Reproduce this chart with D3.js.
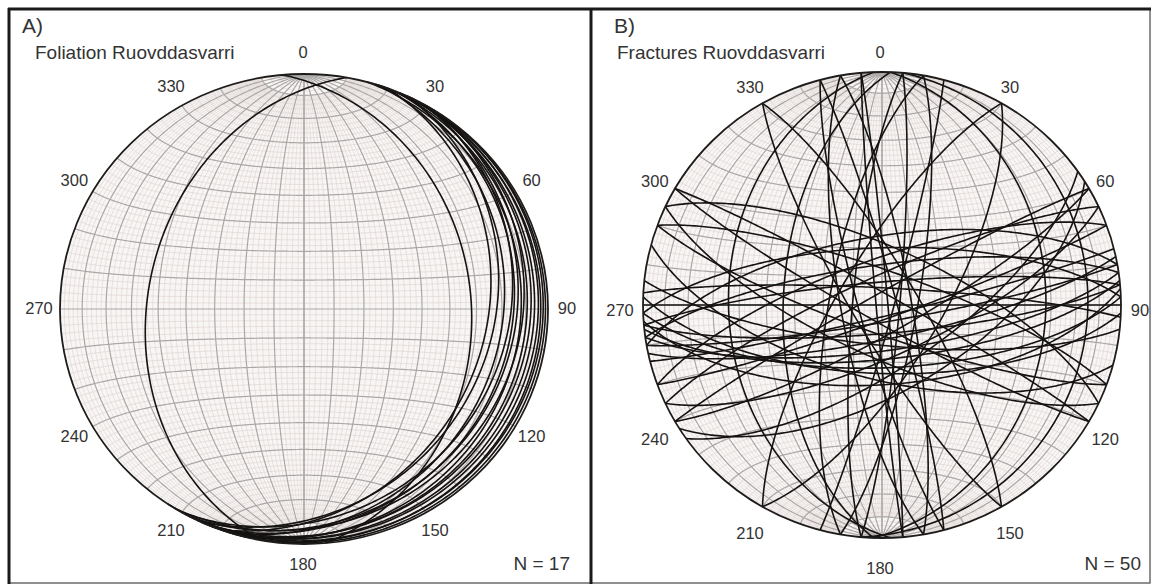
<!DOCTYPE html>
<html>
<head>
<meta charset="utf-8">
<script src="https://cdn.jsdelivr.net/npm/d3@7"></script>
<style>
  html, body { margin: 0; padding: 0; background: #fff; }
  svg { display: block; }
  text { font-family: "Liberation Sans", Arial, sans-serif; fill: #333; }
</style>
</head>
<body>
<svg id="chart" width="1155" height="585"></svg>
<script>
// Azimuth tick labels around each net
const azimuthTicks = [0, 30, 60, 90, 120, 150, 180, 210, 240, 270, 300, 330];

// Foliation planes (dip direction / dip, degrees)
const foliationDipDir = [280, 85, 110, 115, 108, 120, 112, 118, 105, 122, 110, 116, 113, 119, 107, 124, 115];
const foliationDip    = [36, 32, 26.4, 24.1, 20.1, 18.5, 16.2, 15.3, 12.4, 12.9, 10, 8.6, 6.7, 5.1, 3.5, 2.7, 1.3];

// Fracture planes (dip direction / dip, degrees)
const fractureDipDir = [
  180, 175, 172, 178, 170, 176, 168, 174, 355, 352, 358, 3, 186, 182, 166, 350,
  150, 155, 160, 145, 335, 340, 148, 330,
  200, 205, 210, 20, 25, 195, 30,
  75, 80, 255, 260, 272, 85, 95, 100, 275, 280, 265, 95, 105,
  92, 268, 120, 300, 240, 60
];
const fractureDip = [
  90, 80, 74, 68, 84, 62, 78, 71, 82, 76, 70, 84, 76, 66, 86, 66,
  80, 72, 85, 68, 80, 74, 60, 86,
  80, 72, 84, 78, 70, 64, 86,
  85, 80, 82, 76, 56, 88, 84, 78, 80, 72, 88, 15, 86,
  32, 36, 70, 75, 80, 78
];

const panels = [
  { letter: "A)", title: "Foliation Ruovddasvarri", n: "N = 17",
    dipDir: foliationDipDir, dip: foliationDip,
    cx: 304, cy: 309, rx: 244, ry: 235,
    lcx: 303, lcy: 308, lrx: 264, lry: 256,
    letterX: 22, titleX: 35, nX: 570 },
  { letter: "B)", title: "Fractures Ruovddasvarri", n: "N = 50",
    dipDir: fractureDipDir, dip: fractureDip,
    cx: 882, cy: 305, rx: 239, ry: 233,
    lcx: 880, lcy: 310, lrx: 260, lry: 258,
    letterX: 614, titleX: 617, nX: 1141 }
];

const svg = d3.select("#chart");
const rad = Math.PI / 180;

// Lower-hemisphere equal-area projection of a unit vector (x east, y north, z down)
function project(v) {
  const k = 1 / Math.sqrt(1 + v[2]);
  return [v[0] * k, v[1] * k];
}

// Points along a great circle given dip direction / dip
function greatCircle(dd, dip, step = 1) {
  const s = (dd - 90) * rad, d = dd * rad, a = dip * rad;
  const sv = [Math.sin(s), Math.cos(s), 0];
  const dv = [Math.sin(d) * Math.cos(a), Math.cos(d) * Math.cos(a), Math.sin(a)];
  const pts = [];
  for (let r = 0; r <= 180 + 1e-9; r += step) {
    const c = Math.cos(r * rad), sn = Math.sin(r * rad);
    pts.push(project([c * sv[0] + sn * dv[0], c * sv[1] + sn * dv[1], Math.max(0, c * sv[2] + sn * dv[2])]));
  }
  return pts;
}

// Meridian of the net (great circle through N and S), limited in latitude
function meridian(dip, side, latLimit) {
  const a = dip * rad;
  const pts = [];
  for (let r = 90 - latLimit; r <= 90 + latLimit + 1e-9; r += 0.5) {
    const c = Math.cos(r * rad), sn = Math.sin(r * rad);
    pts.push(project([side * sn * Math.cos(a), c, sn * Math.sin(a)]));
  }
  return pts;
}

// Small circle at angular distance alpha from the N (pole=1) or S (pole=-1) horizontal axis
function smallCircle(alpha, pole) {
  const al = alpha * rad;
  const pts = [];
  for (let p = 0; p <= 180 + 1e-9; p += 1) {
    const ph = p * rad;
    pts.push(project([Math.sin(al) * Math.cos(ph), pole * Math.cos(al), Math.sin(al) * Math.sin(ph)]));
  }
  return pts;
}

// Outer frame and divider
svg.append("rect").attr("x", 9).attr("y", 9).attr("width", 1141).attr("height", 574)
  .attr("fill", "none").attr("stroke", "#6b6b6b").attr("stroke-width", 1.5);
svg.append("line").attr("x1", 8).attr("x2", 1151).attr("y1", 9).attr("y2", 9)
  .attr("stroke", "#1a1a1a").attr("stroke-width", 3);
svg.append("line").attr("x1", 9).attr("x2", 9).attr("y1", 8).attr("y2", 584)
  .attr("stroke", "#1a1a1a").attr("stroke-width", 3);
svg.append("line").attr("x1", 591).attr("x2", 591).attr("y1", 8).attr("y2", 584)
  .attr("stroke", "#1a1a1a").attr("stroke-width", 3);

panels.forEach((P, i) => {
  const g = svg.append("g");
  const x = d3.scaleLinear().domain([-1, 1]).range([P.cx - P.rx, P.cx + P.rx]);
  const y = d3.scaleLinear().domain([-1, 1]).range([P.cy + P.ry, P.cy - P.ry]);
  const line = d3.line().x(d => x(d[0])).y(d => y(d[1]));

  const clipId = "clip" + i;
  g.append("clipPath").attr("id", clipId)
    .append("ellipse").attr("cx", P.cx).attr("cy", P.cy).attr("rx", P.rx).attr("ry", P.ry);

  g.append("ellipse").attr("cx", P.cx).attr("cy", P.cy).attr("rx", P.rx).attr("ry", P.ry)
    .attr("fill", "#f8f6f5");

  const net = g.append("g").attr("clip-path", `url(#${clipId})`).attr("fill", "none");

  // fine 2° grid
  for (let a = 2; a < 90; a += 2) {
    if (a % 10 === 0) continue;
    [1, -1].forEach(side => net.append("path").attr("d", line(meridian(a, side, 80)))
      .attr("stroke", "#e0d6d4").attr("stroke-width", 0.7));
    [1, -1].forEach(pole => net.append("path").attr("d", line(smallCircle(a, pole)))
      .attr("stroke", "#e0d6d4").attr("stroke-width", 0.7));
  }
  // 10° grid
  for (let a = 10; a <= 90; a += 10) {
    [1, -1].forEach(side => net.append("path").attr("d", line(meridian(a, side, 90)))
      .attr("stroke", "#aaa7a6").attr("stroke-width", 1.2));
    if (a < 90) [1, -1].forEach(pole => net.append("path").attr("d", line(smallCircle(a, pole)))
      .attr("stroke", "#aaa7a6").attr("stroke-width", 1.2));
  }
  net.append("path").attr("d", line([[-1, 0], [1, 0]])).attr("stroke", "#aaa7a6").attr("stroke-width", 1.2);

  // planes as great circles
  const planes = P.dipDir.map((dd, j) => greatCircle(dd, P.dip[j]));
  g.append("g").attr("fill", "none").selectAll("path").data(planes).join("path")
    .attr("d", line).attr("stroke", "#151312").attr("stroke-width", 1.6);

  // primitive circle
  g.append("ellipse").attr("cx", P.cx).attr("cy", P.cy).attr("rx", P.rx).attr("ry", P.ry)
    .attr("fill", "none").attr("stroke", "#1e1c1b").attr("stroke-width", 1.8);

  // azimuth labels
  g.append("g").selectAll("text").data(azimuthTicks).join("text")
    .attr("x", d => P.lcx + P.lrx * Math.sin(d * rad))
    .attr("y", d => P.lcy - P.lry * Math.cos(d * rad))
    .attr("text-anchor", "middle").attr("dominant-baseline", "central")
    .attr("font-size", 16.5).text(d => d);

  g.append("text").attr("x", P.letterX).attr("y", 33).attr("font-size", 21).text(P.letter);
  g.append("text").attr("x", P.titleX).attr("y", 59).attr("font-size", 19).text(P.title);
  g.append("text").attr("x", P.nX).attr("y", 570).attr("text-anchor", "end").attr("font-size", 19).text(P.n);
});
</script>
</body>
</html>
